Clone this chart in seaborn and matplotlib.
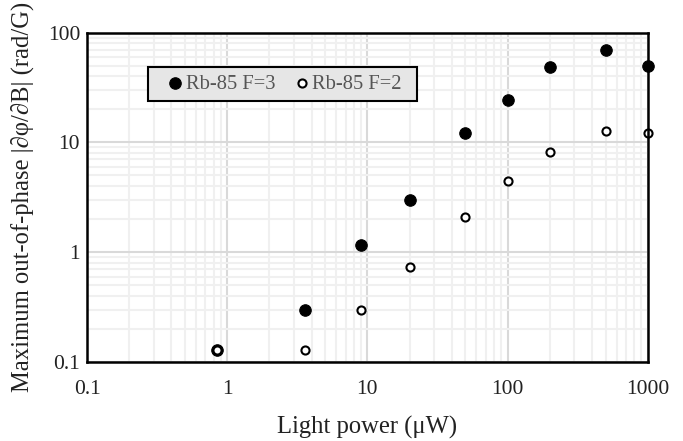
import numpy as np
import pandas as pd
import matplotlib
matplotlib.use("Agg")
import matplotlib.pyplot as plt
import seaborn as sns
from matplotlib.patches import Rectangle
from matplotlib.ticker import LogLocator, FixedLocator, FixedFormatter, NullFormatter

# data
power_uw = [0.84, 3.6, 9, 20, 50, 100, 200, 500, 1000]
f3_slope = [0.13, 0.30, 1.16, 3.0, 12.3, 24.2, 49, 69, 49.4]
f2_slope = [0.13, 0.13, 0.30, 0.73, 2.1, 4.47, 8.2, 12.8, 12.2]
series_names = ["Rb-85 F=3", "Rb-85 F=2"]
x_ticks = [0.1, 1, 10, 100, 1000]
x_tick_labels = ["0.1", "1", "10", "100", "1000"]
y_ticks = [0.1, 1, 10, 100]
y_tick_labels = ["0.1", "1", "10", "100"]

df3 = pd.DataFrame({"power": power_uw, "slope": f3_slope})
df2 = pd.DataFrame({"power": power_uw, "slope": f2_slope})

sns.set_theme(style="white")
plt.rcParams["font.family"] = ["Liberation Serif", "DejaVu Serif"]

fig = plt.figure(figsize=(6.83, 4.41), dpi=100)
ax = fig.add_axes([0.1274, 0.179, 0.821, 0.747])

sns.scatterplot(data=df3, x="power", y="slope", ax=ax, color="black",
                edgecolor="black", linewidth=0.8, s=68, label=series_names[0],
                zorder=3, clip_on=False)
sns.scatterplot(data=df2, x="power", y="slope", ax=ax, color="white",
                edgecolor="black", linewidth=1.5, s=34, label=series_names[1],
                zorder=4, clip_on=False)

ax.set_xscale("log")
ax.set_yscale("log")
ax.set_xlim(0.1, 1000)
ax.set_ylim(0.1, 100)

ax.xaxis.set_major_locator(FixedLocator(x_ticks))
ax.xaxis.set_major_formatter(FixedFormatter(x_tick_labels))
ax.yaxis.set_major_locator(FixedLocator(y_ticks))
ax.yaxis.set_major_formatter(FixedFormatter(y_tick_labels))
ax.xaxis.set_minor_locator(LogLocator(base=10, subs=np.arange(2, 10)))
ax.yaxis.set_minor_locator(LogLocator(base=10, subs=np.arange(2, 10)))
ax.xaxis.set_minor_formatter(NullFormatter())
ax.yaxis.set_minor_formatter(NullFormatter())

ax.grid(True, which="major", color="#d9d9d9", linewidth=1.5)
ax.grid(True, which="minor", color="#f0f0f0", linewidth=1.5)
ax.set_axisbelow(True)
ax.tick_params(which="both", length=0, labelsize=15.5, colors="#222222")
ax.tick_params(axis="x", pad=13)
ax.tick_params(axis="y", pad=5)

for sp in ax.spines.values():
    sp.set_color("black")
    sp.set_linewidth(1.8)
    sp.set_zorder(5)

ax.set_xlabel("Light power (\u03bcW)", fontsize=17.7, color="#222222", labelpad=12)
ax.set_ylabel("Maximum out-of-phase |\u2202\u03c6/\u2202B| (rad/G)", fontsize=17.7,
              color="#222222", labelpad=10)

# legend box drawn as a patch, legend itself without frame
ax.add_patch(Rectangle((0.1088, 0.7926), 0.4798, 0.1032, transform=ax.transAxes,
                       facecolor="#e6e6e6", edgecolor="black", linewidth=1.5, zorder=4.5))
leg = ax.legend(loc="center left", bbox_to_anchor=(0.1427, 0.844), ncol=2, frameon=False,
                fontsize=14.8, handlelength=0.8, handletextpad=0.1, columnspacing=0.92,
                borderpad=0, borderaxespad=0, labelcolor="#555555")
leg.set_zorder(6)

fig.savefig("out.png", dpi=100)
